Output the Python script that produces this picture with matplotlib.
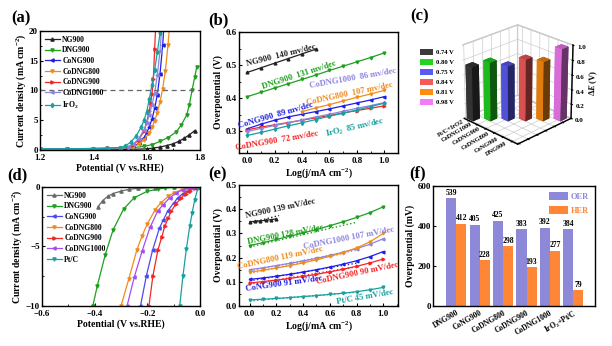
import matplotlib
matplotlib.use('Agg')
import matplotlib.pyplot as plt
from matplotlib.patches import Patch
from matplotlib.ticker import MultipleLocator, AutoMinorLocator

plt.rcParams['font.family'] = 'Liberation Serif'
plt.rcParams['font.weight'] = 'bold'
plt.rcParams['axes.labelweight'] = 'bold'
plt.rcParams['mathtext.fontset'] = 'custom'
plt.rcParams['mathtext.rm'] = 'Liberation Serif:bold'
plt.rcParams['mathtext.it'] = 'Liberation Serif:bold:italic'
plt.rcParams['mathtext.bf'] = 'Liberation Serif:bold'
plt.rcParams['axes.linewidth'] = 1.0
plt.rcParams['xtick.direction'] = 'in'
plt.rcParams['ytick.direction'] = 'in'
plt.rcParams['xtick.labelsize'] = 6.5
plt.rcParams['ytick.labelsize'] = 6.5

# ---------------- data ----------------
# (a) OER polarisation curves: potential (V vs RHE) / current density (mA cm-2)
a_ng900_v = [1.20, 1.30, 1.40, 1.50, 1.55, 1.60, 1.625, 1.65, 1.675, 1.70, 1.72, 1.74, 1.76, 1.78]
a_ng900_j = [0.05, 0.05, 0.05, 0.08, 0.12, 0.2, 0.32, 0.5, 0.75, 1.05, 1.45, 1.95, 2.55, 3.25]
a_dng900_v = [1.20, 1.30, 1.40, 1.50, 1.55, 1.59, 1.62, 1.65, 1.68, 1.71, 1.73, 1.75, 1.76, 1.77, 1.78, 1.788]
a_dng900_j = [0.15, 0.15, 0.15, 0.25, 0.4, 0.6, 0.9, 1.45, 2.1, 3.0, 4.2, 5.9, 7.6, 10.0, 12.2, 14.0]
a_cong900_v = [1.20, 1.30, 1.40, 1.45, 1.50, 1.53, 1.55, 1.57, 1.59, 1.60, 1.61, 1.62, 1.63, 1.64, 1.65, 1.66, 1.665]
a_cong900_j = [0.15, 0.15, 0.15, 0.2, 0.25, 0.35, 0.6, 1.1, 2.1, 2.9, 3.9, 5.2, 7.0, 9.3, 12.8, 17.6, 21.0]
a_codng800_v = [1.20, 1.30, 1.40, 1.45, 1.50, 1.53, 1.55, 1.57, 1.59, 1.61, 1.62, 1.63, 1.64, 1.65, 1.66, 1.67, 1.68, 1.686]
a_codng800_j = [0.15, 0.15, 0.15, 0.2, 0.25, 0.35, 0.55, 0.95, 1.7, 2.9, 3.8, 4.9, 6.3, 8.1, 10.3, 13.3, 17.6, 21.0]
a_codng900_v = [1.20, 1.30, 1.40, 1.45, 1.50, 1.53, 1.55, 1.57, 1.59, 1.60, 1.61, 1.615, 1.62, 1.625, 1.63, 1.634]
a_codng900_j = [0.2, 0.2, 0.25, 0.3, 0.4, 0.55, 0.9, 1.7, 3.2, 4.6, 6.6, 7.9, 9.4, 12.0, 17.0, 21.0]
a_codng1000_v = [1.20, 1.30, 1.40, 1.45, 1.50, 1.53, 1.55, 1.57, 1.59, 1.60, 1.61, 1.62, 1.63, 1.64, 1.65, 1.657]
a_codng1000_j = [0.2, 0.2, 0.25, 0.3, 0.35, 0.55, 1.0, 1.9, 3.4, 4.5, 5.9, 7.6, 9.6, 12.6, 16.6, 21.0]
a_iro2_v = [1.20, 1.30, 1.40, 1.45, 1.50, 1.52, 1.54, 1.56, 1.58, 1.59, 1.60, 1.61, 1.62, 1.63, 1.64, 1.65, 1.655]
a_iro2_j = [0.2, 0.2, 0.25, 0.3, 0.4, 0.7, 1.3, 2.3, 3.9, 5.0, 6.4, 8.6, 11.0, 13.5, 16.4, 19.6, 21.0]

# (b) OER Tafel: log(j) / overpotential (V)
logj = [0.0, 0.1, 0.2, 0.3, 0.4, 0.5, 0.6, 0.7, 0.8, 0.9, 1.0]
b_ng900 = [0.478, 0.492, 0.506, 0.520, 0.534, 0.548]
b_dng900 = [0.405, 0.418, 0.431, 0.444, 0.457, 0.470, 0.484, 0.497, 0.510, 0.523, 0.537]
b_cong900 = [0.308, 0.322, 0.334, 0.344, 0.352, 0.360, 0.368, 0.377, 0.386, 0.395, 0.405]
b_codng800 = [0.360, 0.371, 0.381, 0.392, 0.403, 0.413, 0.424]
b_codng900 = [0.305, 0.313, 0.320, 0.327, 0.334, 0.341, 0.348, 0.356, 0.363, 0.370, 0.377]
b_codng1000 = [0.300, 0.309, 0.318, 0.326, 0.335, 0.344, 0.352, 0.361, 0.370, 0.378, 0.387]
b_iro2 = [0.288, 0.297, 0.307, 0.317, 0.326, 0.336, 0.346, 0.355, 0.365, 0.375, 0.385]

# (c) delta E bars
c_names = ['Pt/C+IrO2', 'CoDNG1000', 'CoDNG900', 'CoDNG800', 'CoNG900', 'DNG900']
c_values = [0.74, 0.80, 0.75, 0.84, 0.81, 0.98]
c_colors = ['#3a3a3a', '#22d422', '#5a5af5', '#f55a5a', '#ff8c10', '#f57af5']

# (d) HER polarisation curves
d_ng900_v = [0.0, -0.10, -0.17, -0.236, -0.27, -0.299, -0.33, -0.35, -0.37, -0.388]
d_ng900_j = [0.0, -0.01, -0.05, -0.11, -0.2, -0.34, -0.55, -0.78, -1.15, -1.68]
d_dng900_v = [0.0, -0.05, -0.10, -0.134, -0.16, -0.20, -0.25, -0.29, -0.33, -0.36, -0.39, -0.407]
d_dng900_j = [0.0, -0.01, -0.03, -0.08, -0.18, -0.36, -0.9, -1.85, -3.6, -5.7, -8.3, -10.0]
d_cong900_v = [0.0, -0.02, -0.046, -0.065, -0.084, -0.10, -0.122, -0.14, -0.154, -0.18, -0.204, -0.226]
d_cong900_j = [0.0, -0.08, -0.3, -0.55, -0.9, -1.35, -2.0, -2.8, -3.45, -5.3, -7.5, -10.0]
d_codng800_v = [0.0, -0.02, -0.05, -0.07, -0.10, -0.12, -0.15, -0.17, -0.20, -0.22, -0.24, -0.27, -0.30]
d_codng800_j = [0.0, -0.03, -0.1, -0.22, -0.5, -0.78, -1.35, -1.9, -3.1, -4.1, -5.3, -7.7, -10.0]
d_codng900_v = [0.0, -0.02, -0.039, -0.055, -0.071, -0.09, -0.109, -0.12, -0.134, -0.145, -0.16, -0.179, -0.194]
d_codng900_j = [0.0, -0.1, -0.3, -0.55, -0.9, -1.4, -2.0, -2.6, -3.3, -4.2, -5.3, -7.5, -10.0]
d_codng1000_v = [0.0, -0.03, -0.065, -0.09, -0.115, -0.14, -0.16, -0.19, -0.22, -0.25, -0.277]
d_codng1000_j = [0.0, -0.06, -0.22, -0.5, -0.9, -1.5, -2.0, -3.4, -5.4, -7.6, -10.0]
d_ptc_v = [0.0, -0.008, -0.02, -0.03, -0.039, -0.052, -0.065, -0.077]
d_ptc_j = [0.0, -0.1, -1.06, -2.2, -3.3, -5.25, -7.5, -10.0]

# (e) HER Tafel
e_ng900_x = [0.0, 0.04, 0.08, 0.12, 0.16, 0.2]
e_ng900 = [0.348, 0.350, 0.352, 0.354, 0.357, 0.360]
e_dng900 = [0.250, 0.262, 0.275, 0.288, 0.302, 0.316, 0.332, 0.348, 0.366, 0.386, 0.410]
e_cong900 = [0.110, 0.116, 0.123, 0.131, 0.140, 0.150, 0.161, 0.173, 0.187, 0.204, 0.225]
e_codng800 = [0.140, 0.148, 0.157, 0.167, 0.178, 0.191, 0.205, 0.221, 0.240, 0.265, 0.300]
e_codng900 = [0.095, 0.101, 0.107, 0.114, 0.122, 0.131, 0.141, 0.152, 0.164, 0.178, 0.194]
e_codng1000 = [0.150, 0.158, 0.167, 0.176, 0.186, 0.197, 0.209, 0.222, 0.237, 0.255, 0.278]
e_ptc = [0.025, 0.028, 0.031, 0.035, 0.039, 0.043, 0.048, 0.053, 0.059, 0.067, 0.077]
# dotted linear fits (start/end x, start/end y)
e_fit_x = {'NG900': (0.0, 0.22), 'DNG900': (0.0, 0.8), 'CoDNG1000': (0.0, 0.8), 'CoDNG800': (0.0, 0.7),
           'CoNG900': (0.0, 0.8), 'CoDNG900': (0.0, 0.8), 'Pt/C': (0.0, 0.8)}
e_fit_y = {'NG900': (0.343, 0.374), 'DNG900': (0.244, 0.346), 'CoDNG1000': (0.145, 0.231), 'CoDNG800': (0.134, 0.217),
           'CoNG900': (0.104, 0.177), 'CoDNG900': (0.090, 0.162), 'Pt/C': (0.021, 0.057)}

# (f) overpotentials
f_names = ['DNG900', 'CoNG900', 'CoDNG800', 'CoDNG900', 'CoDNG1000', 'IrO$_2$+Pt/C']
f_oer = [539, 405, 425, 383, 392, 384]
f_her = [412, 228, 298, 193, 277, 79]

black = '#222222'
green = '#1f9f1f'
blue = '#1f1fe8'
orange = '#f08c1c'
red = '#f52525'
lav = '#8c85de'
violet = '#a64cf0'
teal = '#17a0a0'

W, H = 612.0, 346.0


def box(l, t, r, b):
    return [l / W, 1 - b / H, (r - l) / W, (b - t) / H]


def style(ax):
    ax.tick_params(which='major', length=2.5, width=0.8, pad=1.5)
    ax.tick_params(axis='x', which='major', pad=3)
    ax.tick_params(which='minor', length=1.5, width=0.6)
    ax.xaxis.set_minor_locator(AutoMinorLocator(2))
    ax.yaxis.set_minor_locator(AutoMinorLocator(2))


fig = plt.figure(figsize=(6.12, 3.46), dpi=100)

# ---------------- (a) ----------------
ax = fig.add_axes(box(40, 31, 200, 150))
mk = dict(lw=0.9, ms=2.3)
ax.plot(a_ng900_v, a_ng900_j, color=black, marker='^', label='NG900', **mk)
ax.plot(a_dng900_v, a_dng900_j, color=green, marker='v', label='DNG900', **mk)
ax.plot(a_cong900_v, a_cong900_j, color=blue, marker='<', label='CoNG900', **mk)
ax.plot(a_codng800_v, a_codng800_j, color=orange, marker='v', label='CoDNG800', **mk)
ax.plot(a_codng900_v, a_codng900_j, color=red, marker='>', label='CoDNG900', **mk)
ax.plot(a_codng1000_v, a_codng1000_j, color=lav, marker='<', label='CoDNG1000', **mk)
ax.plot(a_iro2_v, a_iro2_j, color=teal, marker='d', label='IrO$_2$', **mk)
ax.axhline(10, color='#666666', ls='--', lw=0.9, dashes=(4, 3))
ax.set_xlim(1.2, 1.8)
ax.set_ylim(0, 20)
ax.xaxis.set_major_locator(MultipleLocator(0.2))
ax.yaxis.set_major_locator(MultipleLocator(5))
style(ax)
ax.set_xlabel('Potential (V vs.RHE)', fontsize=7, labelpad=1)
ax.set_ylabel('Current density (mA cm$^{-2}$)', fontsize=7, labelpad=1)
ax.legend(loc='upper left', frameon=False, fontsize=5.5, handlelength=2.0, labelspacing=0.35,
          borderaxespad=0.2, handletextpad=0.3)

# ---------------- (b) ----------------
ax = fig.add_axes(box(239, 32, 398, 153))
mk = dict(lw=0.9, ms=2.0)
ax.plot(logj[:6], b_ng900, color=black, marker='^', **mk)
ax.plot(logj, b_dng900, color=green, marker='v', **mk)
ax.plot(logj, b_cong900, color=blue, marker='<', **mk)
ax.plot(logj[4:], b_codng800, color=orange, marker='v', **mk)
ax.plot(logj, b_codng900, color=red, marker='>', **mk)
ax.plot(logj, b_codng1000, color=lav, marker='<', **mk)
ax.plot(logj, b_iro2, color=teal, marker='d', **mk)
ax.set_xlim(-0.06, 1.1)
ax.set_ylim(0.235, 0.6)
ax.xaxis.set_major_locator(MultipleLocator(0.2))
ax.yaxis.set_major_locator(MultipleLocator(0.1))
style(ax)
ax.set_xlabel('Log(j/mA cm$^{-2}$)', fontsize=7, labelpad=1)
ax.set_ylabel('Overpotential (V)', fontsize=7, labelpad=2)
tk = dict(fontsize=6.2, ha='center', va='center', rotation_mode='anchor')
ax.text(0.25, 0.528, 'NG900  140 mv/dec', color=black, rotation=14, **tk)
ax.text(0.38, 0.470, 'DNG900  131 mv/dec', color=green, rotation=18, **tk)
ax.text(0.77, 0.461, 'CoDNG1000  86 mv/dec', color=lav, rotation=10, **tk)
ax.text(0.75, 0.414, 'CoDNG800  107 mv/dec', color=orange, rotation=12, **tk)
ax.text(0.21, 0.348, 'CoNG900  89 mv/dec', color=blue, rotation=16, **tk)
ax.text(0.22, 0.271, 'CoDNG900  72 mv/dec', color=red, rotation=10, **tk)
ax.text(0.79, 0.311, 'IrO$_2$  85 mv/dec', color=teal, rotation=13, **tk)

# ---------------- (c) ----------------
ax3 = fig.add_axes([0.677, 0.505, 0.33, 0.50], projection='3d')
pos = list(range(len(c_values)))
ax3.bar3d(pos, pos, [0] * len(pos), 0.75, 0.75, c_values, color=c_colors, shade=True, edgecolor='none')
ax3.set_xlim(-0.15, 6)
ax3.set_ylim(-0.15, 6)
ax3.set_zlim(0, 1.0)
ax3.set_box_aspect((1, 1, 1.05), zoom=0.76)
ax3.view_init(elev=25, azim=-45)
ax3.set_xticks([p + 0.4 for p in pos])
ax3.set_xticklabels(c_names, fontsize=4.6, rotation=30, ha='right', va='center')
ax3.set_yticks(range(7))
ax3.set_yticklabels([])
ax3.set_zticks([0.0, 0.2, 0.4, 0.6, 0.8, 1.0])
ax3.set_zticklabels(['0.0', '0.2', '0.4', '0.6', '0.8', '1.0'], fontsize=5)
ax3.set_zlabel('Δ$E$ (V)', fontsize=6, labelpad=-8)
for axis in (ax3.xaxis, ax3.yaxis, ax3.zaxis):
    axis.pane.set_facecolor('white')
    axis.pane.set_edgecolor('#888888')
    axis._axinfo['grid']['color'] = '#cccccc'
    axis._axinfo['grid']['linewidth'] = 0.5
ax3.tick_params(pad=-3)
fig.legend(handles=[Patch(facecolor=c, edgecolor='none', label=f'{v:.2f} V') for c, v in zip(c_colors, c_values)],
           loc='upper left', bbox_to_anchor=(414 / W, 1 - 43 / H), frameon=False, fontsize=4.8,
           handlelength=2.0, handleheight=1.0, labelspacing=0.55, handletextpad=0.4)

# ---------------- (d) ----------------
ax = fig.add_axes(box(42, 187, 200, 306))
mk = dict(lw=0.9, ms=2.3)
ax.plot(d_ng900_v, d_ng900_j, color='#6a6a6a', marker='^', label='NG900', **mk)
ax.plot(d_dng900_v, d_dng900_j, color=green, marker='v', label='DNG900', **mk)
ax.plot(d_cong900_v, d_cong900_j, color='#4a4af0', marker='<', label='CoNG900', **mk)
ax.plot(d_codng800_v, d_codng800_j, color=orange, marker='v', label='CoDNG800', **mk)
ax.plot(d_codng900_v, d_codng900_j, color=red, marker='>', label='CoDNG900', **mk)
ax.plot(d_codng1000_v, d_codng1000_j, color=violet, marker='<', label='CoDNG1000', **mk)
ax.plot(d_ptc_v, d_ptc_j, color=teal, marker='v', label='Pt/C', **mk)
ax.set_xlim(-0.6, 0.0)
ax.set_ylim(-10, 0)
ax.xaxis.set_major_locator(MultipleLocator(0.2))
ax.yaxis.set_major_locator(MultipleLocator(5))
style(ax)
ax.set_xlabel('Potential (V vs.RHE)', fontsize=7, labelpad=1)
ax.set_ylabel('Current density (mA cm$^{-2}$)', fontsize=7, labelpad=1)
ax.legend(loc='upper left', frameon=False, fontsize=5.5, handlelength=2.0, labelspacing=0.35,
          borderaxespad=0.2, handletextpad=0.3)

# ---------------- (e) ----------------
ax = fig.add_axes(box(239, 185, 398, 306))
mk = dict(lw=0.9, ms=2.0)
series_e = [('NG900', e_ng900_x, e_ng900, black, '^'),
            ('DNG900', logj, e_dng900, green, 'v'),
            ('CoDNG1000', logj, e_codng1000, lav, '<'),
            ('CoDNG800', logj, e_codng800, orange, 'v'),
            ('CoNG900', logj, e_cong900, blue, '<'),
            ('CoDNG900', logj, e_codng900, red, '>'),
            ('Pt/C', logj, e_ptc, teal, 'v')]
for name, xs, ys, c, m in series_e:
    ax.plot(xs, ys, color=c, marker=m, **mk)
    ax.plot(e_fit_x[name], e_fit_y[name], color=c, ls=':', lw=1.0)
ax.set_xlim(-0.08, 1.11)
ax.set_ylim(0, 0.5)
ax.xaxis.set_major_locator(MultipleLocator(0.2))
ax.yaxis.set_major_locator(MultipleLocator(0.1))
style(ax)
ax.set_xlabel('Log(j/mA cm$^{-2}$)', fontsize=7, labelpad=1)
ax.set_ylabel('Overpotential (V)', fontsize=7, labelpad=2)
ax.text(0.23, 0.402, 'NG900 139 mV/dec', color=black, rotation=12, **tk)
ax.text(0.27, 0.296, 'DNG900 128 mV/dec', color=green, rotation=11, **tk)
ax.text(0.74, 0.282, 'CoDNG1000 107 mV/dec', color=lav, rotation=11, **tk)
ax.text(0.23, 0.200, 'CoDNG800 119 mV/dec', color=orange, rotation=12, **tk)
ax.text(0.26, 0.093, 'CoNG900 91 mV/dec', color=blue, rotation=8, **tk)
ax.text(0.81, 0.135, 'CoDNG900 90 mV/dec', color=red, rotation=12, **tk)
ax.text(0.86, 0.036, 'Pt/C 45 mV/dec', color=teal, rotation=10, **tk)

# ---------------- (f) ----------------
ax = fig.add_axes(box(433, 186, 595, 306))
xs = range(len(f_names))
w = 0.43
b1 = ax.bar([x - w / 2 for x in xs], f_oer, w, color='#8d88d8', label='OER')
b2 = ax.bar([x + w / 2 for x in xs], f_her, w, color='#ff8537', label='HER')
for bars, vals in ((b1, f_oer), (b2, f_her)):
    for bar, v in zip(bars, vals):
        ax.text(bar.get_x() + bar.get_width() / 2, v + 8, str(v), ha='center', va='bottom', fontsize=5.5)
ax.set_xlim(-1.0, 5.93)
ax.set_ylim(0, 600)
ax.yaxis.set_major_locator(MultipleLocator(200))
ax.set_xticks(list(xs))
ax.set_xticklabels(f_names, rotation=30, ha='right', fontsize=5.5, rotation_mode='anchor')
ax.tick_params(axis='x', length=0, pad=2)
ax.tick_params(axis='y', length=2.5, width=0.8, pad=1.5)
ax.set_ylabel('Overpotential (mV)', fontsize=7, labelpad=2)
leg = ax.legend(loc='upper right', frameon=False, fontsize=6, handlelength=2.2, handleheight=1.2,
                labelspacing=0.6, borderaxespad=0.3, handletextpad=0.4)
for t, c in zip(leg.get_texts(), ['#8d88d8', '#ff8537']):
    t.set_color(c)

# panel labels
for lbl, x, y in [('(a)', 11, 18), ('(b)', 208, 20), ('(c)', 410, 16),
                  ('(d)', 7, 175), ('(e)', 208, 174), ('(f)', 409, 173)]:
    fig.text(x / W, 1 - y / H, lbl, fontsize=12, fontweight='bold', ha='left', va='center')

fig.savefig('out.png', dpi=100)
